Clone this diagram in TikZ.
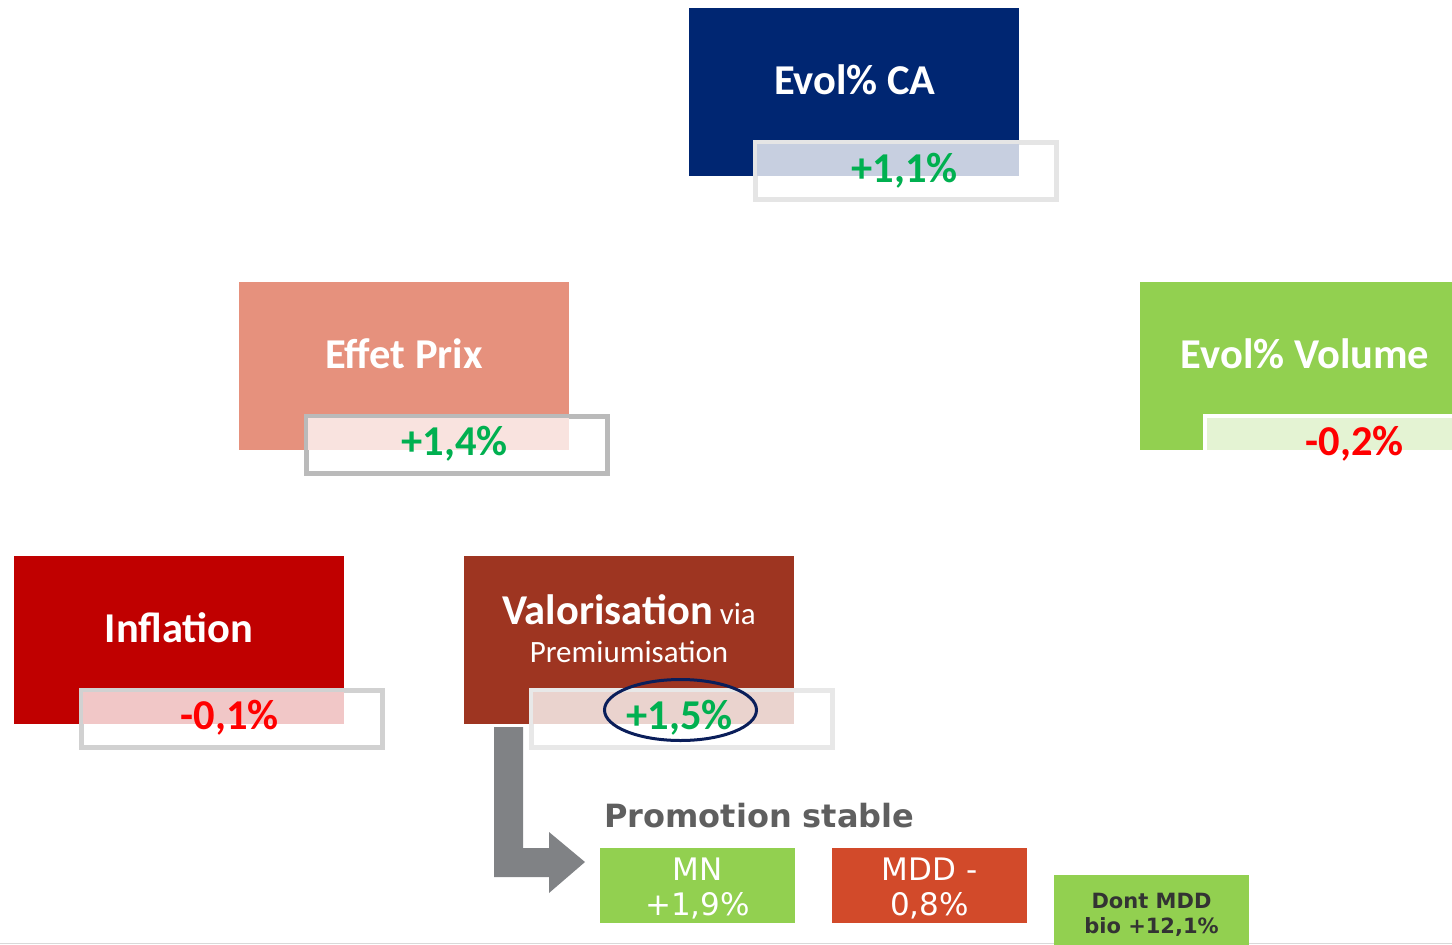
\documentclass[tikz,border=0pt]{standalone}
\usepackage{fontspec}
\setmainfont{Carlito}
\newfontfamily\verd{DejaVu Sans}
\usetikzlibrary{shapes.geometric}
\definecolor{cNavy}{RGB}{0,38,114}
\definecolor{cPrix}{RGB}{230,145,125}
\definecolor{cLime}{RGB}{146,208,80}
\definecolor{cInfl}{RGB}{192,0,0}
\definecolor{cValo}{RGB}{158,53,33}
\definecolor{cMdd}{RGB}{210,74,42}
\definecolor{cGood}{RGB}{0,176,80}
\definecolor{cBad}{RGB}{255,0,0}
\definecolor{cArrow}{RGB}{128,130,133}
\definecolor{cPromo}{RGB}{95,95,95}
\definecolor{cOval}{RGB}{10,30,90}
\definecolor{cDark}{RGB}{51,51,51}
\tikzset{
  mainbox/.style={rectangle, draw=none, minimum width=330pt, minimum height=168pt, anchor=north west, inner sep=0pt},
  valbox/.style={rectangle, fill=white, line width=4.5pt, minimum width=301pt, minimum height=57pt, anchor=north west, inner sep=0pt},
  titletext/.style={text=white, font=\bfseries\fontsize{42.5}{50}\selectfont, inner sep=0pt},
  valtext/.style={font=\bfseries\fontsize{42.5}{50}\selectfont, inner sep=0pt},
  smallbox/.style={rectangle, minimum width=195pt, minimum height=75pt, anchor=north west, inner sep=0pt},
  smalltext/.style={text=white, align=center, font=\verd\fontsize{31}{35}\selectfont, inner sep=0pt},
}
\begin{document}
\begin{tikzpicture}[x=1pt,y=-1pt]
\useasboundingbox (0,0) rectangle (1452,945);
\draw[line width=1.5pt, color=black!15] (0,943.5) -- (1452,943.5);

% Evol% CA
\node[mainbox, fill=cNavy] (ca) at (689,8) {};
\node[titletext] (catitle) at (855,80) {Evol\% CA};
\node[valbox, draw=black!10] (caval) at (753,140) {};
\fill[cNavy!22] (757,144) rectangle (1019,176);
\node[valtext, text=cGood] (cavaltext) at (904.5,171) {+1,1\%};

% Effet Prix
\node[mainbox, fill=cPrix] (prix) at (239,282) {};
\node[titletext] (prixtitle) at (404,354) {Effet Prix};
\node[valbox, draw=black!27] (prixval) at (304,414) {};
\fill[cPrix!25] (308,418) rectangle (569,450);
\node[valtext, text=cGood] (prixvaltext) at (454.5,444) {+1,4\%};

% Evol% Volume
\node[mainbox, fill=cLime] (vol) at (1140,282) {};
\node[titletext] (voltitle) at (1305,354) {Evol\% Volume};
\node[valbox, draw=white] (volval) at (1203,414) {};
\fill[cLime!25] (1207,418) rectangle (1470,450);
\node[valtext, text=cBad] (volvaltext) at (1354.5,444) {-0,2\%};

% Inflation
\node[mainbox, fill=cInfl] (infl) at (14,556) {};
\node[titletext] (infltitle) at (179,628) {Inflation};
\node[valbox, draw=black!18] (inflval) at (79,688) {};
\fill[cInfl!22] (83,692) rectangle (344,724);
\node[valtext, text=cBad] (inflvaltext) at (229.5,718) {-0,1\%};

% Valorisation
\node[mainbox, fill=cValo] (valo) at (464,556) {};
\node[text=white, align=center, inner sep=0pt, font=\fontsize{31}{38}\selectfont] (valotitle) at (629,629)
  {{\bfseries\fontsize{42.5}{38}\selectfont Valorisation} via\\Premiumisation};
\node[valbox, draw=black!9] (valoval) at (529,688) {};
\fill[cValo!22] (533,692) rectangle (794,724);
\node[valtext, text=cGood] (valovaltext) at (679.5,718) {+1,5\%};
\node[draw=cOval, ellipse, line width=3pt, minimum width=152pt, minimum height=61pt, inner sep=0pt] (oval) at (680.5,710) {};

% Arrow
\fill[cArrow] (494,727) -- (523,727) -- (523,848) -- (549,848) -- (549,832) -- (585,862)
  -- (549,893) -- (549,877) -- (494,877) -- cycle;

% Promotion stable
\node[anchor=west, text=cPromo, inner sep=0pt, font=\verd\bfseries\fontsize{32}{36}\selectfont] (promo) at (604,816) {Promotion stable};

\node[smallbox, fill=cLime] (mn) at (600,848) {};
\node[smalltext] (mntext) at (697.5,888) {MN\\+1,9\%};
\node[smallbox, fill=cMdd] (mdd) at (832,848) {};
\node[smalltext] (mddtext) at (929.5,888) {MDD -\\0,8\%};
\node[smallbox, fill=cLime, minimum height=70pt] (bio) at (1054,875) {};
\node[smalltext, text=cDark, font=\verd\bfseries\fontsize{21}{25}\selectfont] (biotext) at (1151.5,915) {Dont MDD\\bio +12,1\%};
\end{tikzpicture}
\end{document}
